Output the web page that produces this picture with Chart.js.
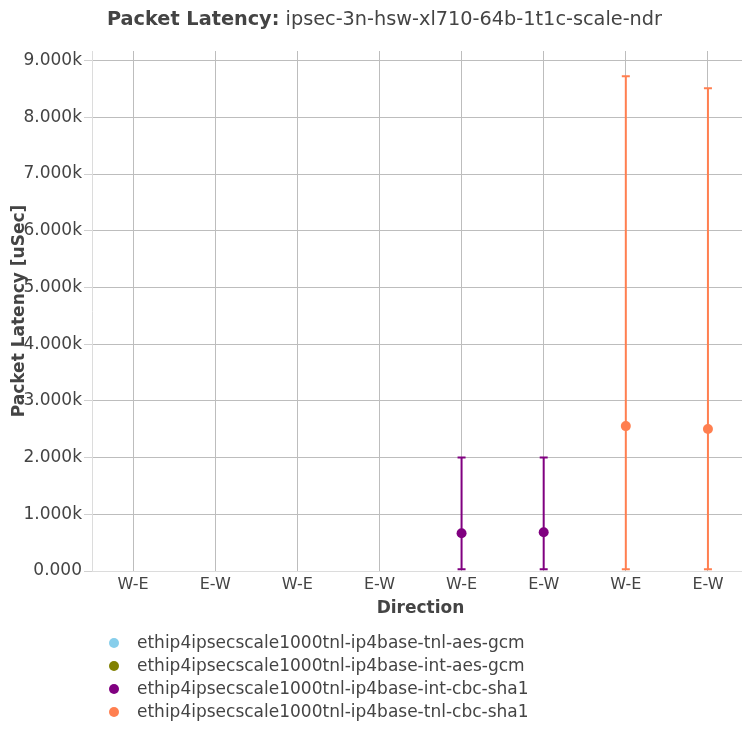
<!DOCTYPE html>
<html>
<head>
<meta charset="utf-8">
<script src="https://cdn.jsdelivr.net/npm/chart.js@4/dist/chart.umd.min.js"></script>
<style>
    html, body { margin: 0; padding: 0; background: #fff; overflow: hidden; }
    #wrap { position: relative; width: 754px; height: 731px; }
    #title {
        position: absolute; left: 107px; top: 7px; line-height: 22px;
        font: 19.3px "DejaVu Sans", sans-serif; color: #444; white-space: nowrap;
    }
    #title b { font-weight: bold; }
    #legend { position: absolute; left: 0; top: 631px; font: 17px "DejaVu Sans", sans-serif; color: #444; }
    .lg-row { position: relative; height: 23px; line-height: 23px; white-space: nowrap; }
    .lg-dot { position: absolute; left: 109px; top: 6.5px; width: 10px; height: 10px; border-radius: 50%; }
    .lg-text { position: absolute; left: 137px; top: 0; }
</style>
</head>
<body>
<div id="wrap">
    <canvas id="chart" width="754" height="731"></canvas>
    <div id="title"><b>Packet Latency:</b> ipsec-3n-hsw-xl710-64b-1t1c-scale-ndr</div>
    <div id="legend"></div>
</div>
<script>
// ─── Data ───
const categories = ['W-E', 'E-W', 'W-E', 'E-W', 'W-E', 'E-W', 'W-E', 'E-W'];
const yTicks = [0, 1000, 2000, 3000, 4000, 5000, 6000, 7000, 8000, 9000];

const seriesNames = [
    'ethip4ipsecscale1000tnl-ip4base-tnl-aes-gcm',
    'ethip4ipsecscale1000tnl-ip4base-int-aes-gcm',
    'ethip4ipsecscale1000tnl-ip4base-int-cbc-sha1',
    'ethip4ipsecscale1000tnl-ip4base-tnl-cbc-sha1'
];
const seriesColors = ['#87CEEB', '#808000', '#800080', '#FF7F50'];

// medians, error bar low / high (uSec)
const tnlAesMedian = [null, null, null, null, null, null, null, null];
const tnlAesLow    = [null, null, null, null, null, null, null, null];
const tnlAesHigh   = [null, null, null, null, null, null, null, null];

const intAesMedian = [null, null, null, null, null, null, null, null];
const intAesLow    = [null, null, null, null, null, null, null, null];
const intAesHigh   = [null, null, null, null, null, null, null, null];

const intCbcMedian = [null, null, null, null, 665, 683, null, null];
const intCbcLow    = [null, null, null, null, 30, 30, null, null];
const intCbcHigh   = [null, null, null, null, 2000, 2000, null, null];

const tnlCbcMedian = [null, null, null, null, null, null, 2555, 2505];
const tnlCbcLow    = [null, null, null, null, null, null, 30, 30];
const tnlCbcHigh   = [null, null, null, null, null, null, 8723, 8511];

const medians = [tnlAesMedian, intAesMedian, intCbcMedian, tnlCbcMedian];
const lows = [tnlAesLow, intAesLow, intCbcLow, tnlCbcLow];
const highs = [tnlAesHigh, intAesHigh, intCbcHigh, tnlCbcHigh];

const FONT = '"DejaVu Sans", sans-serif';
const TEXT = '#444';
const GRID = '#bdbdbd';

// ─── Error bars (drawn through the chart scales) ───
const errorBars = {
    id: 'errorBars',
    beforeDatasetsDraw(chart) {
        const { ctx, scales: { x, y } } = chart;
        ctx.save();
        ctx.lineWidth = 2;
        chart.data.datasets.forEach(ds => {
            ctx.strokeStyle = ds.borderColor;
            ds.errLow.forEach((lo, i) => {
                const hi = ds.errHigh[i];
                if (lo == null || hi == null) return;
                const px = x.getPixelForValue(i);
                const pLo = y.getPixelForValue(lo);
                const pHi = y.getPixelForValue(hi);
                ctx.beginPath();
                ctx.moveTo(px, pLo); ctx.lineTo(px, pHi);
                ctx.moveTo(px - 4, pLo); ctx.lineTo(px + 4, pLo);
                ctx.moveTo(px - 4, pHi); ctx.lineTo(px + 4, pHi);
                ctx.stroke();
            });
        });
        ctx.restore();
    }
};

const datasets = seriesNames.map((name, i) => ({
    label: name,
    data: medians[i],
    errLow: lows[i],
    errHigh: highs[i],
    borderColor: seriesColors[i],
    backgroundColor: seriesColors[i],
    showLine: false,
    pointRadius: 5,
    pointHoverRadius: 5,
    pointBorderWidth: 0
}));

new Chart(document.getElementById('chart'), {
    type: 'line',
    data: { labels: categories, datasets },
    options: {
        responsive: false,
        animation: false,
        events: [],
        layout: { padding: { top: 51, bottom: 100, left: 0, right: 0 } },
        plugins: {
            legend: { display: false },
            title: { display: false },
            tooltip: { enabled: false }
        },
        scales: {
            x: {
                offset: true,
                grid: { offset: false, color: GRID, drawTicks: false },
                border: { color: '#dcdcdc' },
                ticks: { color: TEXT, font: { family: FONT, size: 16 }, padding: 4, maxRotation: 0, autoSkip: false },
                title: {
                    display: true, text: 'Direction', color: TEXT,
                    font: { family: FONT, size: 17, weight: 'bold' },
                    padding: { top: 0, bottom: 12 }
                },
                afterFit: s => { s.height = 60; s.paddingLeft = 0; s.paddingRight = 0; }
            },
            y: {
                min: 0,
                max: 9170,
                afterBuildTicks: s => { s.ticks = yTicks.map(v => ({ value: v })); },
                grid: {
                    color: c => (c.tick && c.tick.value === 0 ? '#dcdcdc' : GRID),
                    tickLength: 8,
                    tickColor: '#d0d0d0'
                },
                border: { color: '#dcdcdc' },
                ticks: {
                    color: TEXT, font: { family: FONT, size: 17 }, padding: 2,
                    callback: v => (v === 0 ? '0.000' : (v / 1000).toFixed(3) + 'k')
                },
                title: {
                    display: true, text: 'Packet Latency [uSec]', color: TEXT,
                    font: { family: FONT, size: 17, weight: 'bold' },
                    padding: { top: 9, bottom: 0 }
                },
                afterFit: s => { s.width = 92; }
            }
        }
    },
    plugins: [errorBars]
});

// ─── Legend ───
document.getElementById('legend').innerHTML = seriesNames.map((n, i) =>
    `<div class="lg-row"><span class="lg-dot" style="background:${seriesColors[i]}"></span><span class="lg-text">${n}</span></div>`
).join('');
</script>
</body>
</html>
